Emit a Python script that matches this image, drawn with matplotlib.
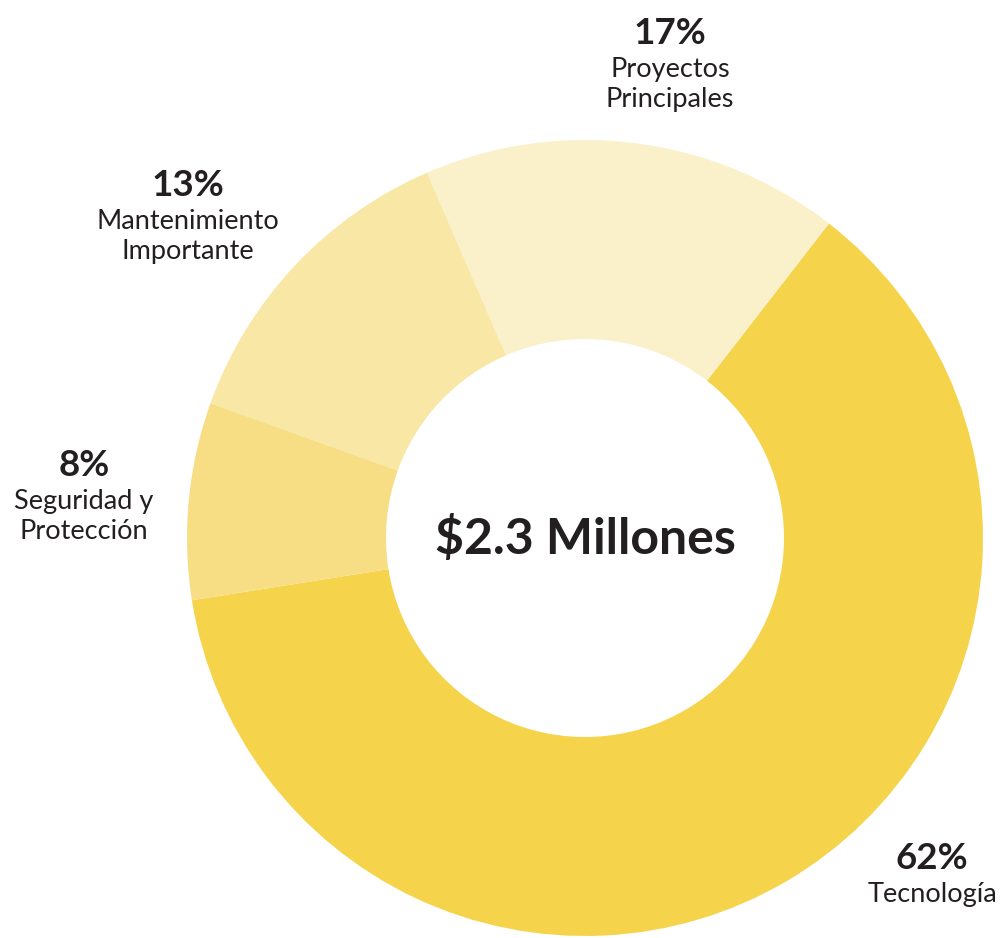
import matplotlib
matplotlib.use('Agg')
import matplotlib.pyplot as plt

# Slice data, counter-clockwise from the lower left boundary
categories = ["Tecnología", "Proyectos\nPrincipales", "Mantenimiento\nImportante", "Seguridad y\nProtección"]
shares = [62, 17, 13, 8]
colors = ["#F5D44C", "#FAF0C9", "#F9E7A6", "#F7DE85"]
total_label = "$2.3 Millones"

# label anchor points in pixel coords (x, y from top)
label_pos = [(932, 858), (670, 33), (188, 185), (84, 465)]

W, H = 1005, 938
ink = "#231F20"
plt.rcParams['font.family'] = ['Lato', 'DejaVu Sans']

fig = plt.figure(figsize=(W / 100, H / 100), dpi=100)
ax = fig.add_axes([0, 0, 1, 1])

cx, cy, r = 585, H - 538, 398
ax.pie(shares, colors=colors, startangle=189, counterclock=True,
       center=(cx, cy), radius=r, frame=True,
       wedgeprops=dict(width=r * 0.5, edgecolor='none'))
ax.set_xlim(0, W)
ax.set_ylim(0, H)
ax.set_aspect('equal')
ax.axis('off')

ax.text(cx, cy, total_label, ha='center', va='center', fontsize=36,
        fontweight='bold', color=ink)

for name, val, (x, y) in zip(categories, shares, label_pos):
    ax.text(x, H - y, f"{val}%", ha='center', va='center', fontsize=26.5,
            fontweight='bold', color=ink)
    ax.text(x, H - y - 24, name, ha='center', va='top', fontsize=19.5,
            color=ink, linespacing=1.27)

fig.savefig("out.png", dpi=100)
